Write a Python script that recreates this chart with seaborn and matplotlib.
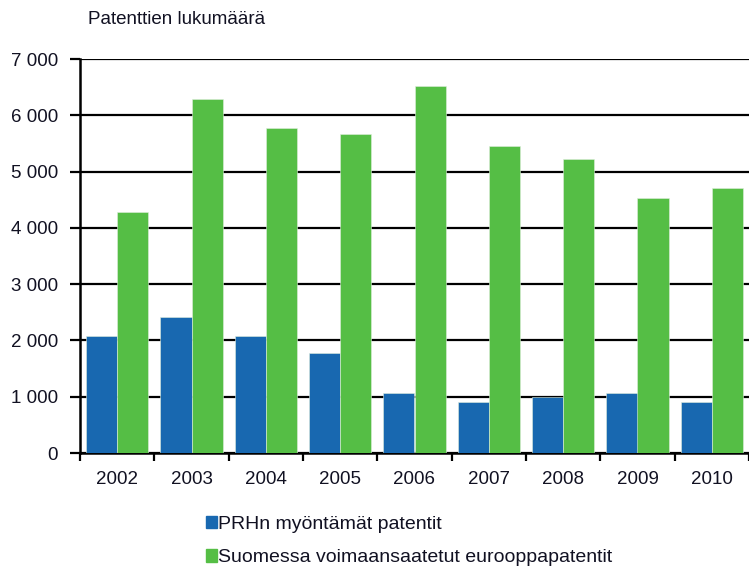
import numpy as np
import pandas as pd
import matplotlib
matplotlib.use('Agg')
import matplotlib.pyplot as plt
import seaborn as sns
from matplotlib.ticker import FuncFormatter

# Data
vuodet = ['2002', '2003', '2004', '2005', '2006', '2007', '2008', '2009', '2010']
prh = [2080, 2420, 2080, 1770, 1060, 910, 1000, 1060, 910]
euro = [4280, 6290, 5780, 5660, 6520, 5460, 5230, 4530, 4700]
sarjat = ['PRHn myöntämät patentit', 'Suomessa voimaansaatetut eurooppapatentit']
varit = ['#1868B0', '#55BE45']

df = pd.DataFrame({
    'Vuosi': vuodet * 2,
    'Patentit': prh + euro,
    'Sarja': [sarjat[0]] * len(vuodet) + [sarjat[1]] * len(vuodet),
})

sns.set_style('white')
plt.rcParams['font.family'] = ['Liberation Sans', 'DejaVu Sans']
FS = 13.5
TXT = '#111122'

fig = plt.figure(figsize=(7.49, 5.72), dpi=100)
ax = fig.add_axes([80 / 749, (572 - 453) / 572, 669 / 749, (453 - 59) / 572])

sns.barplot(data=df, x='Vuosi', y='Patentit', hue='Sarja', palette=varit,
            width=0.84, gap=0, saturation=1, ax=ax, legend=False,
            edgecolor='#dfeedd', linewidth=0.4, zorder=3)

ax.set_ylim(0, 7000)
ax.set_xlim(-0.5, 669 / 75 - 0.5)
ax.set_yticks(np.arange(0, 7001, 1000))
ax.yaxis.set_major_formatter(FuncFormatter(lambda v, p: f'{int(v):,}'.replace(',', ' ')))
ax.grid(axis='y', color='black', linewidth=1.6, zorder=0)
ax.set_axisbelow(True)

# x-akselin tikit ryhmien välissä, nimet keskellä
n = len(vuodet)
ax.set_xticks(np.arange(n + 1) - 0.5)
ax.set_xticklabels([''] * (n + 1))
ax.set_xticks(np.arange(n), minor=True)
ax.set_xticklabels(vuodet, minor=True)
ax.tick_params(axis='x', which='major', direction='out', length=6, width=1.6, color='black', bottom=True)
ax.tick_params(axis='x', which='minor', length=0, pad=13, labelsize=FS, labelcolor=TXT)
ax.tick_params(axis='y', direction='out', length=7, width=1.6, color='black', left=True,
               labelsize=FS, labelcolor=TXT, pad=9)

for s in ['top', 'right']:
    ax.spines[s].set_visible(False)
for s in ['left', 'bottom']:
    ax.spines[s].set_color('black')
    ax.spines[s].set_linewidth(1.8)
ax.set_xlabel('')
ax.set_ylabel('')

fig.text(88 / 749, 1 - 19 / 572, 'Patenttien lukumäärä', fontsize=FS, color=TXT, va='center')

handles = [plt.Rectangle((0, 0), 1, 1, color=c) for c in varit]
fig.legend(handles, sarjat, loc='upper left', bbox_to_anchor=(196 / 749, 1 - 506 / 572),
           frameon=False, fontsize=14, handlelength=0.6, handleheight=0.6,
           handletextpad=0.05, labelspacing=0.85, borderpad=0, labelcolor=TXT)

plt.savefig('out.png', dpi=100)
plt.close()
